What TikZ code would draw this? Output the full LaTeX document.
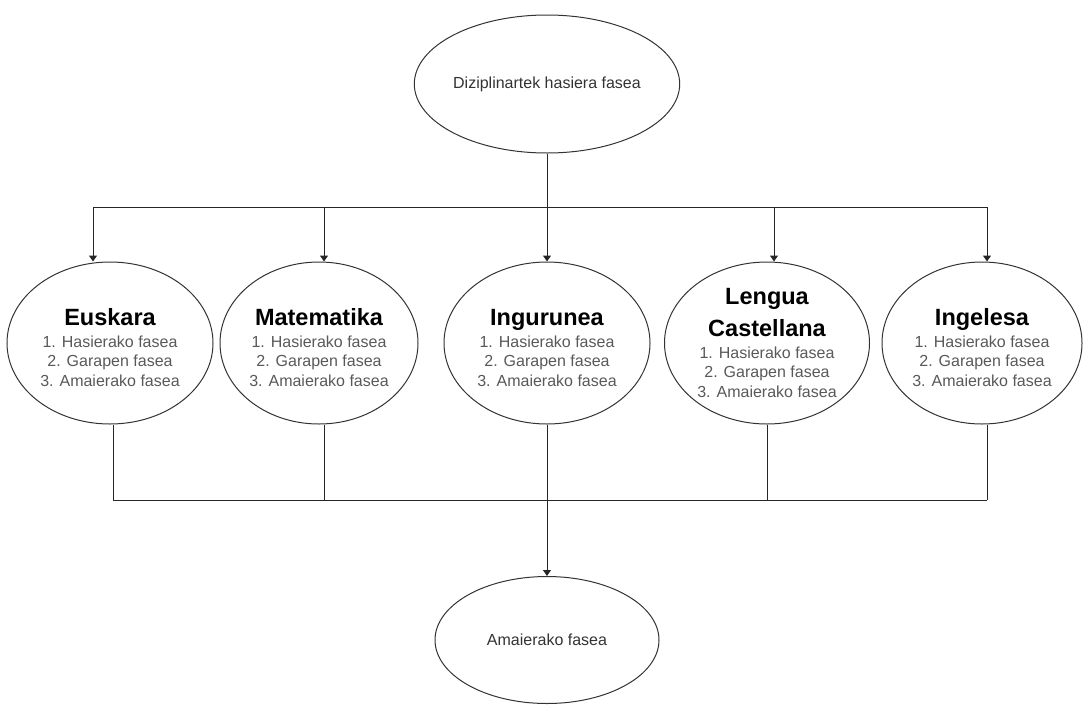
\documentclass[tikz,border=0pt]{standalone}
\usepackage{fontspec}
\setmainfont{Liberation Sans}
\usetikzlibrary{shapes.geometric,arrows.meta}

\colorlet{itemgray}{black!65}
\newcommand{\subjfont}{\fontsize{23.5}{26}\selectfont\bfseries\color{black}}
% subject title, with a strut so the text sits a little lower in the ellipse
\newcommand{\subj}[1]{{\subjfont\rule{0pt}{26.5pt}#1}}

\begin{document}
\begin{tikzpicture}[x=1pt,y=-1pt,
    phase/.style={draw=black!80, line width=1pt, ellipse, inner sep=0pt, align=center,
        font=\fontsize{16}{19.5}\selectfont, text=itemgray},
    conn/.style={draw=black!85, line width=1pt},
    arr/.style={conn, -{Triangle[length=6pt,width=8pt]}}]

\useasboundingbox (0,0) rectangle (1083,704);

% start and end phases
\node[phase, minimum width=221pt, minimum height=138pt, text=black!80] (start) at (547,84) {Diziplinartek hasiera fasea};
\node[phase, minimum width=224pt, minimum height=127pt, text=black!80] (final) at (547,640) {Amaierako fasea};

% subjects
\node[phase, minimum width=206pt, minimum height=162pt] (eus) at (110,343)
    {\subj{Euskara}\\[2pt] 1. Hasierako fasea\\ 2. Garapen fasea\\ 3. Amaierako fasea};
\node[phase, minimum width=198pt, minimum height=162pt] (mat) at (319,343)
    {\subj{Matematika}\\[2pt] 1. Hasierako fasea\\ 2. Garapen fasea\\ 3. Amaierako fasea};
\node[phase, minimum width=206pt, minimum height=162pt] (ing) at (547,343)
    {\subj{Ingurunea}\\[2pt] 1. Hasierako fasea\\ 2. Garapen fasea\\ 3. Amaierako fasea};
\node[phase, minimum width=205pt, minimum height=162pt] (len) at (767,343)
    {{\subjfont Lengua}\\[9pt] {\subjfont Castellana}\\[2pt] 1. Hasierako fasea\\ 2. Garapen fasea\\ 3. Amaierako fasea};
\node[phase, minimum width=200pt, minimum height=162pt] (ingl) at (982,343)
    {\subj{Ingelesa}\\[2pt] 1. Hasierako fasea\\ 2. Garapen fasea\\ 3. Amaierako fasea};

% top bus
\coordinate (bustop) at (547,207);
\draw[conn] (start) -- (bustop);

\foreach \n/\x in {eus/93, mat/324, ing/547, len/774, ingl/987}
{
    \coordinate (t\n) at (\x,207);
    \draw[arr] (t\n) -- (t\n |- \n.north);
}
\draw[conn] (teus) -- (tingl);

% bottom bus
\foreach \n/\x in {eus/113, mat/324, len/767, ingl/987}
{
    \coordinate (b\n) at (\x,500);
    \draw[conn] (b\n |- \n.south) -- (b\n);
}
\draw[conn] (beus) -- (bingl);
\draw[arr] (ing) -- (final);

\end{tikzpicture}
\end{document}
